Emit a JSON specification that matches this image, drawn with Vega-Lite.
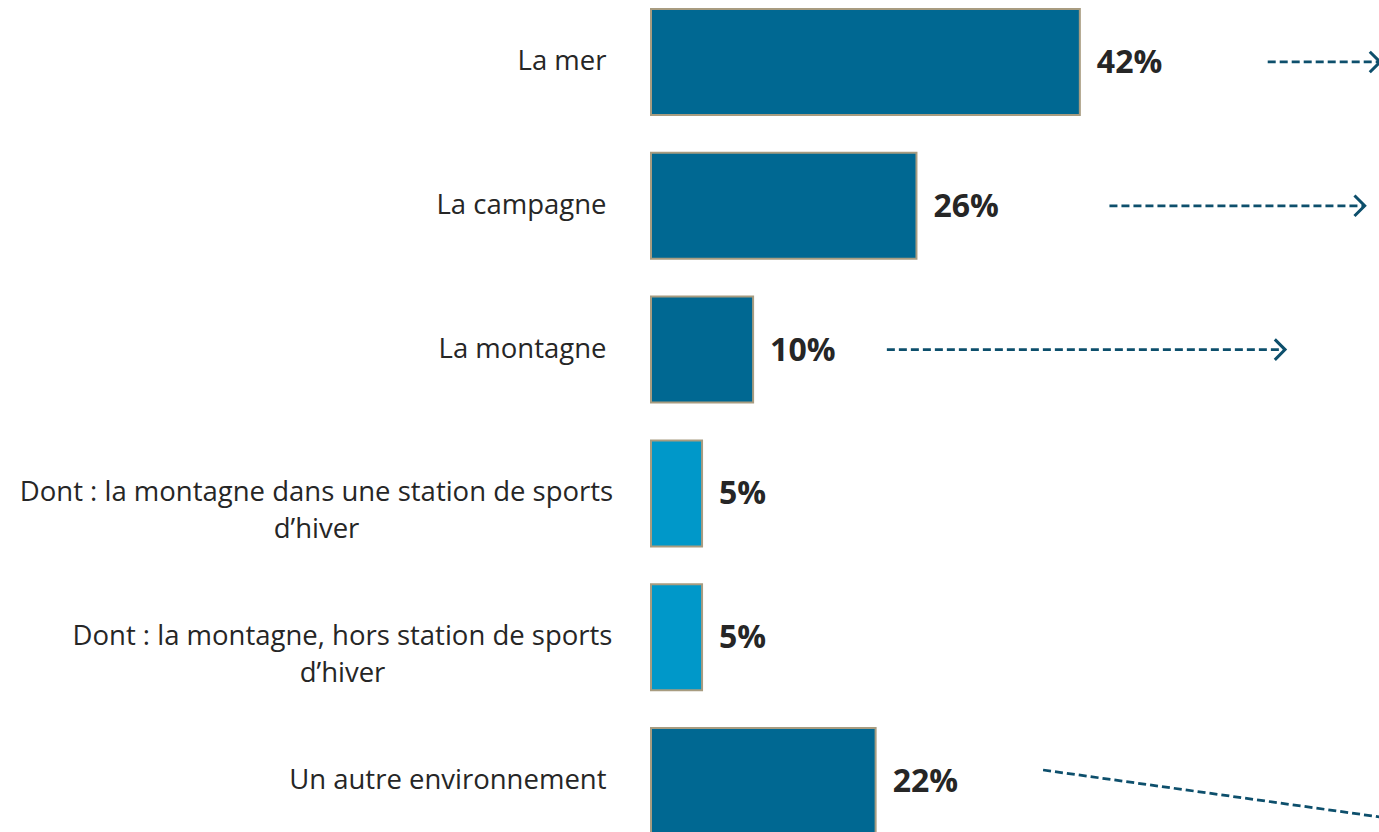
{
  "$schema": "https://vega.github.io/schema/vega-lite/v6.json",
  "width": 728,
  "height": 832,
  "autosize": {"type": "none"},
  "padding": {"left": 651, "top": 0, "right": 0, "bottom": 0},
  "background": "white",
  "config": {"view": {"stroke": null}, "font": "Open Sans"},
  "datasets": {
    "bars": [
      {"cat": "La mer", "value": 0.42, "type": "main"},
      {"cat": "La campagne", "value": 0.26, "type": "main"},
      {"cat": "La montagne", "value": 0.10, "type": "main"},
      {"cat": "Dont : la montagne dans une station de sports|d’hiver", "value": 0.05, "type": "sub"},
      {"cat": "Dont : la montagne, hors station de sports|d’hiver", "value": 0.05, "type": "sub"},
      {"cat": "Un autre environnement", "value": 0.22, "type": "main"}
    ],
    "arrows": [
      {"cat": "La mer", "x1": 0.604, "x2": 0.714},
      {"cat": "La campagne", "x1": 0.449, "x2": 0.699},
      {"cat": "La montagne", "x1": 0.231, "x2": 0.621}
    ],
    "slope": [
      {"cat": "Un autre environnement", "x1": 0.384, "x2": 0.714}
    ]
  },
  "encoding": {
    "y": {
      "field": "cat",
      "type": "nominal",
      "sort": null,
      "scale": {"range": [0, 843], "paddingInner": 0.263, "paddingOuter": 0.0626},
      "axis": {
        "title": null,
        "domain": false,
        "ticks": false,
        "labelPadding": {"condition": [{"test": "datum.value == 'Dont : la montagne dans une station de sports|d’hiver'", "value": 335}, {"test": "datum.value == 'Dont : la montagne, hors station de sports|d’hiver'", "value": 309}], "value": 45},
        "labelAlign": {"condition": {"test": "datum.value == 'Dont : la montagne dans une station de sports|d’hiver' || datum.value == 'Dont : la montagne, hors station de sports|d’hiver'", "value": "center"}, "value": "right"},
        "labelFontSize": 27.5,
        "labelColor": "#262626",
        "labelFont": "Open Sans",
        "labelLimit": 800,
        "labelLineHeight": 37,
        "labelExpr": "split(datum.label, '|')"
      }
    }
  },
  "layer": [
    {
      "data": {"name": "bars"},
      "mark": {"type": "bar", "stroke": "#a89c80", "strokeWidth": 2},
      "encoding": {
        "x": {"field": "value", "type": "quantitative", "scale": {"domain": [0, 0.713], "nice": false, "zero": true}, "axis": null},
        "color": {"field": "type", "type": "nominal", "scale": {"domain": ["main", "sub"], "range": ["#006892", "#0098c9"]}, "legend": null}
      }
    },
    {
      "data": {"name": "bars"},
      "mark": {"type": "text", "align": "left", "baseline": "middle", "dx": 17, "dy": 1, "fontSize": 32, "fontWeight": "bold", "font": "Open Sans", "color": "#262626"},
      "encoding": {
        "x": {"field": "value", "type": "quantitative"},
        "text": {"field": "value", "type": "quantitative", "format": ".0%"}
      }
    },
    {
      "data": {"name": "arrows"},
      "mark": {"type": "rule", "color": "#0d4f6c", "strokeWidth": 2.75, "strokeDash": [8, 4]},
      "encoding": {
        "x": {"field": "x1", "type": "quantitative"},
        "x2": {"field": "x2"}
      }
    },
    {
      "data": {"name": "arrows"},
      "mark": {"type": "point", "shape": "M-1,-1L0,0L-1,1", "size": 420, "filled": false, "stroke": "#0d4f6c", "strokeWidth": 3, "opacity": 1},
      "encoding": {
        "x": {"field": "x2", "type": "quantitative"}
      }
    },
    {
      "data": {"name": "slope"},
      "mark": {"type": "rule", "color": "#0d4f6c", "strokeWidth": 2.75, "strokeDash": [8, 4], "yOffset": -11, "y2Offset": 36},
      "encoding": {
        "x": {"field": "x1", "type": "quantitative"},
        "x2": {"field": "x2"},
        "y2": {"field": "cat"}
      }
    }
  ]
}
